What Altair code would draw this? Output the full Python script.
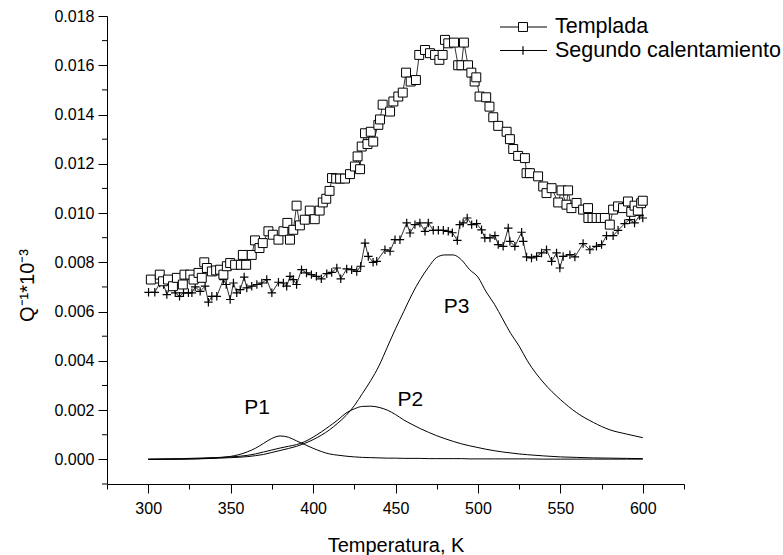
import altair as alt
import pandas as pd

# ---- Data ----
templada_T = [301.6, 307, 309, 312, 315, 317.4, 321, 322, 325.5, 327.5, 330.5, 332.5, 334, 335.6,
              338.6, 341.2, 343.6, 345.6, 347.7, 349.7, 352.7, 356.2, 357.4, 359.4, 362.8, 364.8,
              367.5, 369.5, 372.9, 375.6, 379, 382, 384.4, 386, 388, 390, 392, 395, 398, 401, 404,
              405.9, 408, 410, 411.5, 414, 416.4, 419.4, 422.4, 425.4, 427, 428.5, 429.5, 431.5,
              433, 435, 436.5, 439.6, 440.6, 442.2, 446.7, 448.7, 451.7, 454.4, 456.4, 459.2,
              462.4, 464.4, 467.9, 470.9, 474, 476.6, 478.6, 480, 482, 485.5, 488, 490, 491.5,
              494, 496, 498, 499, 501, 505, 507, 509.3, 512.3, 517.4, 519.4, 521.4, 524.4, 528.5,
              529.5, 531.5, 536.5, 539.6, 541.6, 544.7, 548.7, 550.7, 553.7, 554.7, 556.7, 559.8,
              563.8, 566.8, 567, 569.5, 572, 574.5, 577, 580, 582, 585, 588, 591, 593, 595, 597,
              599, 600]
templada_V = [0.0073, 0.0075, 0.00723, 0.0073, 0.00703, 0.00737, 0.0071, 0.0075, 0.0075, 0.0073,
              0.00757, 0.00737, 0.0080, 0.00777, 0.00763, 0.00767, 0.0077, 0.0075, 0.00784,
              0.00797, 0.0079, 0.0079, 0.0083, 0.0079, 0.0083, 0.00889, 0.00858, 0.00878, 0.00926,
              0.00912, 0.00892, 0.00926, 0.0096, 0.00892, 0.00932, 0.0103, 0.0095, 0.00973,
              0.0101, 0.00975, 0.0101, 0.01043, 0.01058, 0.0109, 0.01142, 0.0114, 0.0114, 0.0114,
              0.01158, 0.01189, 0.0123, 0.01178, 0.0127, 0.01324, 0.0128, 0.0133, 0.0129, 0.01358,
              0.0138, 0.0144, 0.01412, 0.01453, 0.01473, 0.01489, 0.0157, 0.01534, 0.0154,
              0.01642, 0.01662, 0.01649, 0.01642, 0.01622, 0.01642, 0.01703, 0.01689, 0.01692,
              0.0160, 0.0160, 0.01692, 0.0160, 0.0157, 0.01534, 0.01551, 0.01473, 0.0147, 0.01432,
              0.01389, 0.01354, 0.0133, 0.0130, 0.0126, 0.01232, 0.01223, 0.01162, 0.01162,
              0.01149, 0.01108, 0.01081, 0.01101, 0.01043, 0.01092, 0.01034, 0.01092, 0.0102,
              0.01041, 0.01014, 0.0102, 0.0098, 0.0098, 0.0098, 0.0098, 0.0098, 0.00953, 0.01014,
              0.01027, 0.0102, 0.01047, 0.01005, 0.0103, 0.0101, 0.0104, 0.0105]

segundo_T = [300.2, 304, 307, 309.3, 311.3, 314.4, 316.4, 319, 321.4, 324.4, 326.5, 328.5, 331.5,
             334.5, 336.5, 338.6, 341.6, 345.6, 347.3, 349.7, 351.7, 353.7, 355.8, 358.2, 359.8,
             362.8, 365.9, 368.9, 371.9, 375, 379, 382, 384, 386, 388, 390, 393, 396, 399, 402,
             405, 408.3, 411.3, 414.4, 416.8, 420.4, 423.4, 426.5, 428.9, 431.5, 433.5, 436.4,
             438.6, 443.6, 446.7, 449.7, 452.7, 456.8, 458.8, 461.8, 464.8, 467.9, 469.9, 472.9,
             476, 479, 482, 484.5, 487.5, 489, 491, 493.5, 496.2, 499.2, 502.2, 504.2, 507.3,
             510.3, 512.3, 515.3, 518.4, 519.4, 522.4, 526.5, 527.5, 529.5, 532.5, 535.6, 538.6,
             541.6, 544.7, 547.7, 549.7, 551.7, 555.8, 558.8, 563.8, 567.9, 571.9, 575, 578, 582,
             585, 589, 592, 595, 598, 600]
segundo_V = [0.00678, 0.00678, 0.00716, 0.0071, 0.00669, 0.0071, 0.00676, 0.00662, 0.00676,
             0.00676, 0.00676, 0.0070, 0.00682, 0.00703, 0.00638, 0.00662, 0.00662, 0.0073,
             0.0071, 0.00649, 0.00716, 0.00676, 0.00689, 0.0074, 0.00696, 0.00703, 0.0071,
             0.00716, 0.0073, 0.00676, 0.00719, 0.00716, 0.00703, 0.00743, 0.0073, 0.0071,
             0.0077, 0.00757, 0.0075, 0.00743, 0.00733, 0.00754, 0.00759, 0.00777, 0.00733,
             0.00773, 0.0077, 0.00763, 0.00784, 0.00878, 0.00824, 0.0080, 0.00804, 0.00851,
             0.00845, 0.00892, 0.00892, 0.0096, 0.00919, 0.00953, 0.0096, 0.00926, 0.0096,
             0.0093, 0.0093, 0.0093, 0.00926, 0.0092, 0.00889, 0.00953, 0.0096, 0.0098, 0.00953,
             0.00957, 0.00932, 0.00899, 0.00899, 0.00908, 0.00872, 0.00865, 0.00939, 0.00885,
             0.00865, 0.00922, 0.00885, 0.00822, 0.00818, 0.00824, 0.00838, 0.00851, 0.00804,
             0.00838, 0.00777, 0.00824, 0.00831, 0.00822, 0.00876, 0.00851, 0.00865, 0.00872,
             0.00908, 0.00908, 0.0093, 0.00957, 0.00973, 0.0096, 0.0099, 0.0098]

peak_T = [300, 320, 340, 350, 360, 365, 370, 375, 380, 385, 390, 395, 400, 410, 415, 420, 425,
          430, 435, 440, 445, 450, 455, 460, 465, 470, 475, 480, 485, 490, 495, 500, 505, 510,
          515, 520, 525, 530, 540, 550, 560, 570, 580, 590, 600]
P1 = [0.0, 0.00001, 0.00006, 0.00012, 0.0003, 0.00045, 0.00065, 0.00085, 0.00095, 0.0009,
      0.00075, 0.0006, 0.00045, 0.00022, 0.00017, 0.00013, 0.0001, 0.00008, 0.00007, 0.00006,
      0.00005, 0.00005, 0.00004, 0.00004, 0.00004, 0.00003, 0.00003, 0.00003, 0.00003, 0.00003,
      0.00002, 0.00002, 0.00002, 0.00002, 0.00002, 0.00002, 0.00002, 0.00002, 0.00001, 0.00001,
      0.00001, 0.00001, 0.00001, 0.00001, 0.00001]
P2 = [0.00001, 0.00003, 0.00007, 0.0001, 0.00016, 0.00022, 0.0003, 0.00038, 0.00046, 0.00053,
      0.0006, 0.00072, 0.0009, 0.00135, 0.0016, 0.00188, 0.00205, 0.00215, 0.00216, 0.00211,
      0.002, 0.00182, 0.0016, 0.00142, 0.00125, 0.0011, 0.00096, 0.00084, 0.00073, 0.00063,
      0.00055, 0.00048, 0.00041, 0.00035, 0.0003, 0.00026, 0.00022, 0.00019, 0.00014, 0.0001,
      0.00008, 0.00006, 0.00005, 0.00004, 0.00003]
P3 = [0.0, 0.00001, 0.00004, 0.00007, 0.00011, 0.00015, 0.0002, 0.00028, 0.00036, 0.00044,
      0.00053, 0.00065, 0.0008, 0.0012, 0.00147, 0.00178, 0.00218, 0.00268, 0.0032, 0.0038,
      0.00455, 0.0053, 0.006, 0.0067, 0.0073, 0.0078, 0.0082, 0.0083, 0.0083, 0.0081, 0.0077,
      0.0074, 0.0068, 0.0063, 0.0057, 0.0051, 0.0046, 0.0040, 0.0031, 0.00243, 0.00189, 0.0015,
      0.0012, 0.00103, 0.00088]

peak_labels = ["P1", "P2", "P3"]
label_T = [366, 459, 487]
label_V = [0.0021, 0.00243, 0.0062]

legend_names = ["Templada", "Segundo calentamiento"]

x_ticks = list(range(275, 626, 25))
y_major = [0.0, 0.002, 0.004, 0.006, 0.008, 0.010, 0.012, 0.014, 0.016, 0.018]
y_minor = [-0.001, 0.001, 0.003, 0.005, 0.007, 0.009, 0.011, 0.013, 0.015, 0.017]

FONT = "Liberation Sans"

# ---- Tables ----
df_t = pd.DataFrame({"T": templada_T, "V": templada_V})
df_s = pd.DataFrame({"T": segundo_T, "V": segundo_V})
df_p = pd.concat([
    pd.DataFrame({"T": peak_T, "V": P1, "peak": "P1"}),
    pd.DataFrame({"T": peak_T, "V": P2, "peak": "P2"}),
    pd.DataFrame({"T": peak_T, "V": P3, "peak": "P3"}),
])
df_lab = pd.DataFrame({"T": label_T, "V": label_V, "text": peak_labels})
df_minor = pd.DataFrame({"V": y_minor})

xscale = alt.Scale(domain=[275, 625], nice=False, zero=False)
yscale = alt.Scale(domain=[-0.001, 0.018], nice=False, zero=False)

x_axis = alt.Axis(
    values=x_ticks,
    labelExpr="datum.value % 50 === 0 ? format(datum.value, 'd') : ''",
    tickSize={"condition": {"test": "datum.value % 50 === 0", "value": 9}, "value": 5},
    labelFontSize=16, labelFont=FONT, labelPadding=7, labelOverlap=False,
    title="Temperatura, K", titleFontSize=20, titleFont=FONT, titleFontWeight="normal",
    titleY=67, titleBaseline="alphabetic", grid=False,
)
y_axis = alt.Axis(
    values=y_major, format=".3f", tickSize=9,
    labelFontSize=16, labelFont=FONT, labelPadding=4, labelOverlap=False,
    title="Q⁻¹*10⁻³", titleFontSize=20, titleFont=FONT, titleFontWeight="normal",
    titleX=-80, titleY=269, titleAngle=270, titleAlign="center", titleBaseline="middle",
    grid=False,
)

X = alt.X("T:Q", scale=xscale, axis=x_axis)
Y = alt.Y("V:Q", scale=yscale, axis=y_axis)
Xn = alt.X("T:Q", scale=xscale)
Yn = alt.Y("V:Q", scale=yscale)

peaks = alt.Chart(df_p).mark_line(color="black", strokeWidth=1, interpolate="monotone").encode(
    x=X, y=Y, detail="peak:N"
)
minor_y = alt.Chart(df_minor).mark_rule(color="black", strokeWidth=1).encode(
    y=Yn, x=alt.value(-5), x2=alt.value(0))
t_line = alt.Chart(df_t).mark_line(color="black", strokeWidth=0.8).encode(x=Xn, y=Yn)
t_pts = alt.Chart(df_t).mark_point(shape="square", size=80, filled=True, fill="white",
                                   stroke="black", strokeWidth=1, opacity=1).encode(x=Xn, y=Yn)
s_line = alt.Chart(df_s).mark_line(color="black", strokeWidth=0.8).encode(x=Xn, y=Yn)
s_pts = alt.Chart(df_s).mark_point(shape="M-1,0H1M0,-1V1", size=72, filled=False,
                                   stroke="black", strokeWidth=1.2, opacity=1).encode(x=Xn, y=Yn)
labels = alt.Chart(df_lab).mark_text(fontSize=21, font=FONT, color="black",
                                     align="center", baseline="middle").encode(
    x=Xn, y=Yn, text="text:N")

# ---- Manual legend (top right, outside plot) ----
leg = []
for i, name in enumerate(legend_names):
    yy = 11 + 23.5 * i
    ldf = pd.DataFrame({"name": [name]})
    leg.append(alt.Chart(ldf).mark_rule(color="black", strokeWidth=1).encode(
        x=alt.value(393), x2=alt.value(440), y=alt.value(yy)))
    if i == 0:
        leg.append(alt.Chart(ldf).mark_point(shape="square", size=80, filled=True, fill="white",
                                             stroke="black", strokeWidth=1, opacity=1).encode(
            x=alt.value(416), y=alt.value(yy)))
    else:
        leg.append(alt.Chart(ldf).mark_point(shape="M-1,0H1M0,-1V1", size=72, filled=False,
                                             stroke="black", strokeWidth=1.2, opacity=1).encode(
            x=alt.value(416), y=alt.value(yy)))
    leg.append(alt.Chart(ldf).mark_text(fontSize=21.5, font=FONT, color="black", align="left",
                                        baseline="middle").encode(
        x=alt.value(448), y=alt.value(yy), text="name:N"))

chart = alt.layer(peaks, minor_y, t_line, s_line, s_pts, t_pts, labels, *leg).properties(
    width=577, height=468,
    autosize=alt.AutoSizeParams(type="none"),
    padding={"left": 107, "top": 16, "right": 99, "bottom": 71},
    background="white",
).configure_view(stroke=None).configure_axis(
    domainColor="black", tickColor="black", labelColor="black", titleColor="black",
    domainWidth=1, tickWidth=1,
)

chart.save("out.html", embed_options={"renderer": "svg", "actions": False})
